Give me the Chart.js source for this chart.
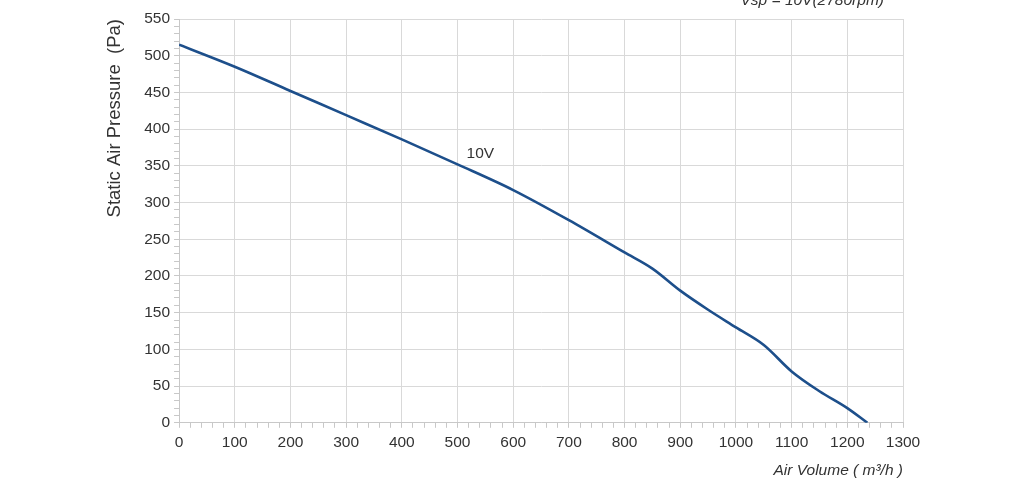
<!DOCTYPE html>
<html lang="en">
<head>
    <meta charset="UTF-8">
    <title>Air Volume vs Static Air Pressure</title>
    <script src="https://cdn.jsdelivr.net/npm/chart.js"></script>
    <style>
        body { margin: 0; background: #fff; }
        #wrap { width: 1024px; height: 486px; position: relative; }
    </style>
</head>
<body>
<div id="wrap"><canvas id="fanChart"></canvas></div>

<script>
    // curve
    const airVolume = [0, 100, 200, 300, 400, 500, 600, 700, 800, 850, 900, 950, 1000, 1050, 1100, 1150, 1200, 1236];
    const pressure = [515, 485, 452, 419, 386, 352, 317, 276, 232, 210, 180, 154, 130, 106, 70, 43, 20, 0];

    const curveLabel = '10V';
    const curveLabelAt = [541, 366];
    const speedNote = 'Vsp = 10V(2780rpm)';
    const speedNoteAt = 1137;

    const textColor = '#333333';
    const gridColor = '#d9d9d9';
    const fontFamily = '"Liberation Sans", Arial, sans-serif';

    const points = airVolume.map((v, i) => ({x: v, y: pressure[i]}));

    // draws the curve label and the clipped note at the top
    const notes = {
        id: 'notes',
        afterDatasetsDraw(chart) {
            const ctx = chart.ctx;
            const xs = chart.scales.x;
            const ys = chart.scales.y;
            ctx.save();
            ctx.fillStyle = textColor;
            ctx.font = '15.5px ' + fontFamily;
            ctx.textAlign = 'center';
            ctx.textBaseline = 'middle';
            ctx.fillText(curveLabel, xs.getPixelForValue(curveLabelAt[0]), ys.getPixelForValue(curveLabelAt[1]));
            ctx.font = 'italic 15.5px ' + fontFamily;
            ctx.fillText(speedNote, xs.getPixelForValue(speedNoteAt), chart.chartArea.top - 18);
            ctx.restore();
        }
    };

    new Chart(document.getElementById('fanChart').getContext('2d'), {
        type: 'line',
        data: {
            datasets: [{
                label: curveLabel,
                data: points,
                borderColor: '#1d4f8b',
                borderWidth: 2.6,
                pointRadius: 0,
                fill: false,
                cubicInterpolationMode: 'monotone'
            }]
        },
        options: {
            responsive: true,
            maintainAspectRatio: false,
            animation: false,
            layout: {
                padding: {top: 19, right: 121, bottom: 6, left: 104}
            },
            plugins: {
                legend: {display: false},
                tooltip: {enabled: false}
            },
            scales: {
                x: {
                    type: 'linear',
                    min: 0,
                    max: 1300,
                    border: {color: '#c8c8c8'},
                    grid: {
                        color: (c) => c.tick && c.tick.value % 100 === 0 ? gridColor : 'rgba(0,0,0,0)',
                        tickColor: '#c8c8c8',
                        tickLength: 5
                    },
                    ticks: {
                        stepSize: 20,
                        autoSkip: false,
                        maxRotation: 0,
                        color: textColor,
                        font: {family: fontFamily, size: 15.5},
                        padding: 6,
                        callback: (v) => v % 100 === 0 ? v : ''
                    },
                    title: {
                        display: true,
                        text: 'Air Volume ( m³/h )',
                        align: 'end',
                        color: textColor,
                        font: {family: fontFamily, size: 15.5, style: 'italic'},
                        padding: {top: 3, bottom: 0}
                    }
                },
                y: {
                    min: 0,
                    max: 550,
                    border: {color: '#c8c8c8'},
                    grid: {
                        color: (c) => c.tick && c.tick.value % 50 === 0 ? gridColor : 'rgba(0,0,0,0)',
                        tickColor: '#c8c8c8',
                        tickLength: 5
                    },
                    ticks: {
                        stepSize: 10,
                        autoSkip: false,
                        color: textColor,
                        font: {family: fontFamily, size: 15.5},
                        padding: 4,
                        callback: (v) => v % 50 === 0 ? v : ''
                    },
                    title: {
                        display: true,
                        text: 'Static Air Pressure  (Pa)',
                        align: 'end',
                        color: textColor,
                        font: {family: fontFamily, size: 18.5},
                        padding: {top: 0, bottom: 14}
                    }
                }
            }
        },
        plugins: [notes]
    });
</script>
</body>
</html>
